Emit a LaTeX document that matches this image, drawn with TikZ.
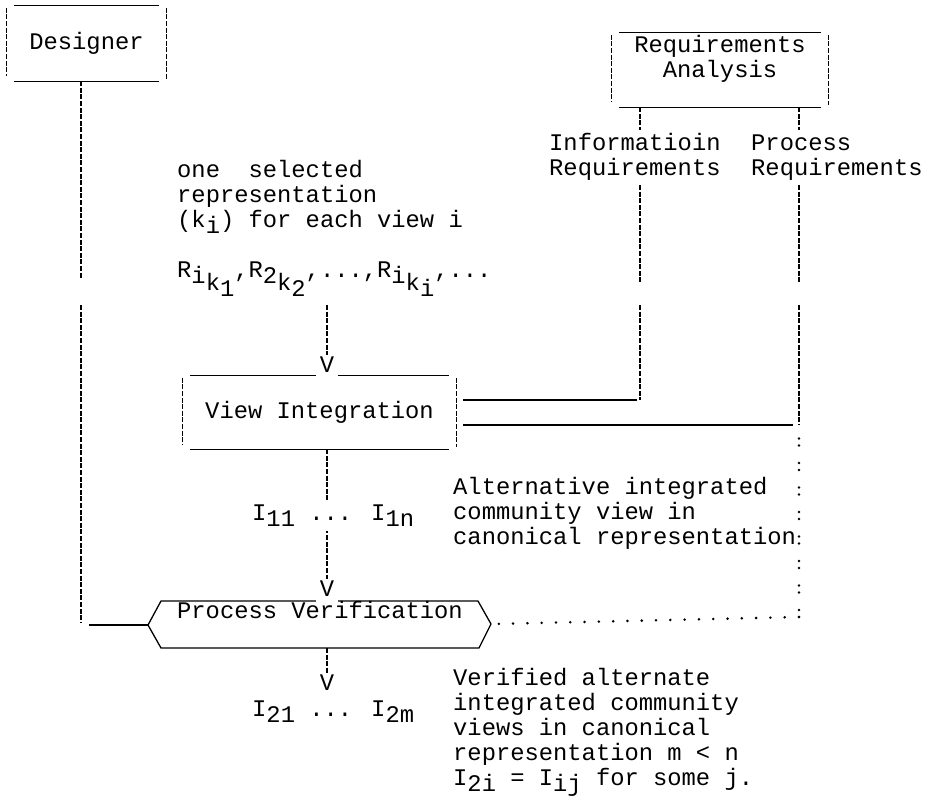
\documentclass[tikz,border=0pt]{standalone}
\usepackage{fontspec}
\setmainfont{Liberation Mono}
\usetikzlibrary{calc}

\newcommand{\dn}[1]{\raisebox{-0.28em}{#1}}
% sides of a typed box: ruled top and bottom, broken bars left and right
\newcommand{\boxsides}[1]{%
  \draw[hline] ([xshift=7.5pt]#1.north west) -- ([xshift=-7.5pt]#1.north east);
  \draw[hline] ([xshift=7.5pt]#1.south west) -- ([xshift=-7.5pt]#1.south east);
  \draw[vline] ([yshift=-2pt]#1.north west) -- ([yshift=5pt]#1.south west);
  \draw[vline] ([yshift=-2pt]#1.north east) -- ([yshift=2pt]#1.south east);}

\begin{document}
\begin{tikzpicture}[x=1pt,y=-1pt,
  font=\fontsize{23.8}{25}\selectfont,
  txt/.style={inner sep=0pt,align=left,anchor=base west},
  box/.style={inner sep=0pt},
  arrowv/.style={anchor=base,fill=white,inner xsep=3.5pt,inner ysep=1pt,text depth=6pt},
  vline/.style={line width=1.2pt,dash pattern=on 5pt off 1.6pt},
  hline/.style={line width=1.3pt},
  dots/.style={line width=2.8pt,line cap=round,dash pattern=on 0pt off 14.3pt},
  colons/.style={line width=2.8pt,line cap=round,dash pattern=on 0pt off 7pt on 0pt off 17.5pt}]
\useasboundingbox (0,0) rectangle (926,801);

\node (des) [box,minimum width=159pt,minimum height=75pt] at (86.5,43.5) {Designer};
\node (ra) [box,minimum width=216pt,minimum height=74pt] at (720,70) {};
\node (ratxt) [txt,align=center,anchor=base] at (720,77) {Requirements\\Analysis};
\node (vi) [box,minimum width=273pt,minimum height=73pt] at (319.5,412.5) {View Integration};
\boxsides{des}
\boxsides{ra}
\boxsides{vi}

\node (infotxt) [txt] at (549,175) {Informatioin\\Requirements};
\node (proctxt) [txt] at (751,175) {Process\\Requirements};
\node (sel) [txt] at (177,227) {one\ \ selected\\representation\\(k\dn{i}) for each view i};
\node (rrow) [txt] at (177,277) {R\dn{i\dn{k\dn{1}}},R\dn{2\dn{k\dn{2}}},...,R\dn{i\dn{k\dn{i}}},...};
\node (alt) [txt] at (453,544) {Alternative integrated\\community view in\\canonical representation};
\node (ver) [txt] at (453,785) {Verified alternate\\integrated community\\views in canonical\\representation m < n\\I\dn{2i} = I\dn{ij} for some j.};

% process verification
\node (pv) [txt,anchor=base] at (320,618) {Process Verification};
\coordinate (pvw) at (148,625);
\coordinate (pvnw) at (161,601);
\coordinate (pvne) at (478,601);
\coordinate (pve) at (491,624);
\coordinate (pvse) at (479,648);
\coordinate (pvsw) at (161,648);
\draw[hline] (pvw) -- (pvnw) -- (pvne) -- (pve) -- (pvse) -- (pvsw) -- cycle;

\node (v1) [arrowv] at (327,372) {V};
\node (v2) [arrowv] at (327,596) {V};
\node (v3) [arrowv] at (327,690) {V};

\coordinate (r0) at (327,305);
\draw[vline] (r0) -- (v1);
\draw[vline] (vi.south -| v1) -- (v2);
\draw[vline] (pvsw -| v3) -- (v3);

\coordinate (d1) at (81,279);
\coordinate (d2) at (81,305);
\coordinate (d3) at (81,622);
\coordinate (dh) at (89,625);
\draw[vline] (des.south -| d1) -- (d1) (d2) -- (d3);
\draw[hline] (dh) -- (pvw);

\coordinate (ia) at (640,130);
\coordinate (ib) at (640,185);
\coordinate (ic) at (640,282);
\coordinate (id) at (640,305);
\coordinate (ie) at (640,400);
\draw[vline] (ra.south -| ia) -- (ia) (ib) -- (ic) (id) -- (ie);
\draw[hline] ([xshift=-3pt]ie) -- ([xshift=7pt]vi.east |- ie);

\coordinate (pa) at (799,130);
\coordinate (pb) at (799,185);
\coordinate (pc) at (799,282);
\coordinate (pd) at (799,305);
\coordinate (pe) at (799,425);
\coordinate (pf) at (799,617);
\draw[vline] (ra.south -| pa) -- (pa) (pb) -- (pc) (pd) -- (pe);
\draw[hline] ([xshift=-6pt]pe) -- ([xshift=7pt]vi.east |- pe);
\draw[colons] (pf) -- ([yshift=-12pt]pe);
\draw[dots] (pf) -- ([xshift=2pt]pve);

\node (i1row) [txt,fill=white,inner ysep=4pt] at (252,520) {I\dn{11} ... I\dn{1n}};
\node (i2row) [txt] at (252,716) {I\dn{21} ... I\dn{2m}};
\end{tikzpicture}
\end{document}
